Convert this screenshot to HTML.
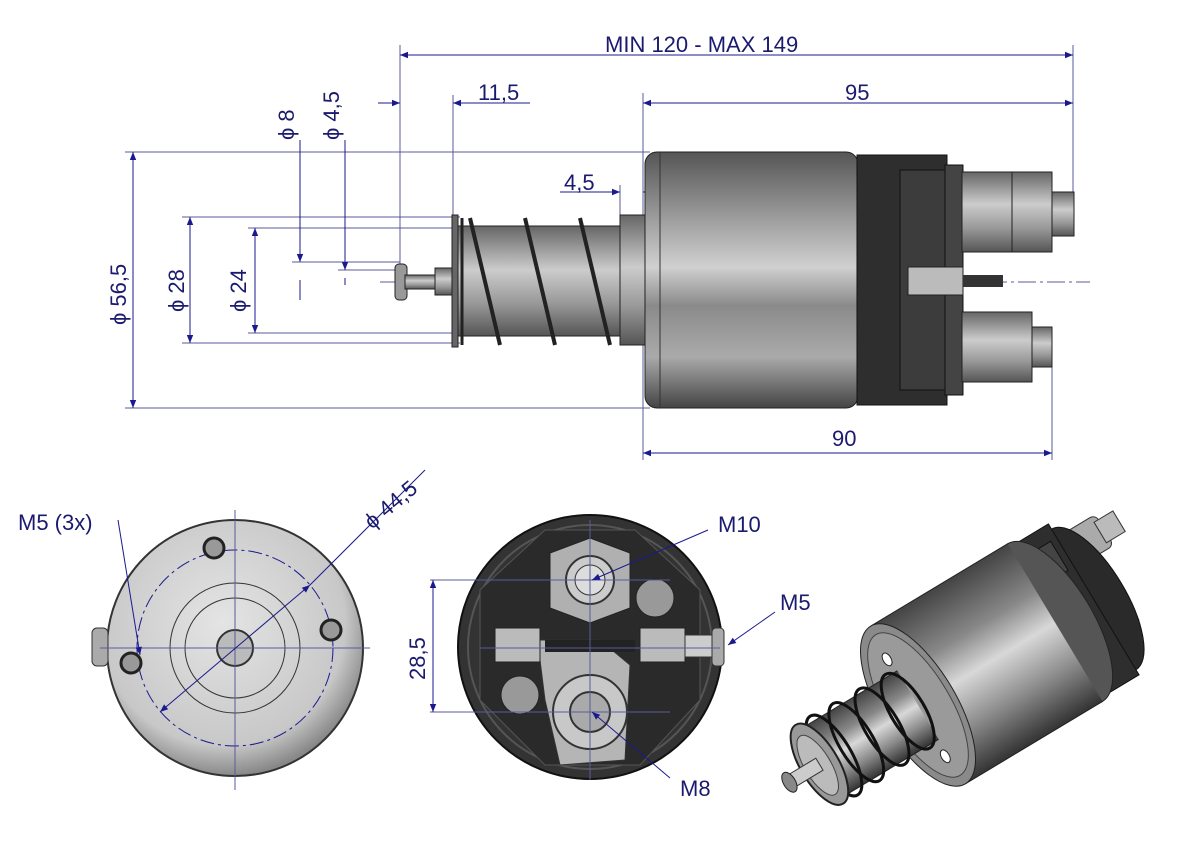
<!DOCTYPE html>
<html><head><meta charset="utf-8"><style>
html,body{margin:0;padding:0;background:#fff;}
svg{display:block;}
text{font-family:"Liberation Sans",sans-serif;fill:#1a1a6e;font-size:22px;}
</style></head><body>
<svg width="1191" height="842" viewBox="0 0 1191 842" xmlns="http://www.w3.org/2000/svg">
<defs>
<linearGradient id="cyl" x1="0" y1="0" x2="0" y2="1">
<stop offset="0" stop-color="#555"/><stop offset="0.25" stop-color="#9a9a9a"/><stop offset="0.45" stop-color="#d0d0d0"/><stop offset="0.6" stop-color="#8a8a8a"/><stop offset="0.8" stop-color="#aaa"/><stop offset="1" stop-color="#444"/>
</linearGradient>
<linearGradient id="sh" x1="0" y1="0" x2="0" y2="1">
<stop offset="0" stop-color="#666"/><stop offset="0.4" stop-color="#ccc"/><stop offset="0.7" stop-color="#999"/><stop offset="1" stop-color="#555"/>
</linearGradient>
<radialGradient id="disc" cx="0.45" cy="0.4" r="0.6">
<stop offset="0" stop-color="#e4e4e4"/><stop offset="0.8" stop-color="#c8c8c8"/><stop offset="1" stop-color="#888"/>
</radialGradient>
<linearGradient id="isoc" x1="0" y1="0" x2="0" y2="1">
<stop offset="0" stop-color="#444"/><stop offset="0.3" stop-color="#888"/><stop offset="0.5" stop-color="#d8d8d8"/><stop offset="0.75" stop-color="#8a8a8a"/><stop offset="1" stop-color="#333"/>
</linearGradient>
<marker id="a" viewBox="0 0 10 10" refX="10" refY="5" markerWidth="12" markerHeight="8" orient="auto-start-reverse" markerUnits="userSpaceOnUse"><path d="M0,1 L10,5 L0,9z" fill="#1a1a8e"/></marker>
</defs>
<g stroke="#5a5a9a" stroke-width="1" fill="none">
<line x1="400" y1="45" x2="400" y2="285"/>
<line x1="453" y1="95" x2="453" y2="340"/>
<line x1="643" y1="93" x2="643" y2="460"/>
<line x1="1073" y1="45" x2="1073" y2="225"/>
<line x1="1052" y1="330" x2="1052" y2="460"/>
<line x1="125" y1="152" x2="650" y2="152"/>
<line x1="125" y1="408" x2="650" y2="408"/>
<line x1="182" y1="217" x2="460" y2="217"/>
<line x1="182" y1="343" x2="460" y2="343"/>
<line x1="248" y1="228" x2="460" y2="228"/>
<line x1="248" y1="333" x2="460" y2="333"/>
<line x1="292" y1="262" x2="400" y2="262"/>
<line x1="338" y1="270" x2="400" y2="270"/>
<line x1="620" y1="185" x2="620" y2="217"/>
<line x1="380" y1="282" x2="1090" y2="282" stroke-dasharray="18,4,3,4"/>
</g>
<g stroke="#1a1a8e" stroke-width="1" fill="none">
<line x1="400" y1="55" x2="1073" y2="55" marker-start="url(#a)" marker-end="url(#a)"/>
<line x1="643" y1="103" x2="1073" y2="103" marker-start="url(#a)" marker-end="url(#a)"/>
<line x1="643" y1="453" x2="1052" y2="453" marker-start="url(#a)" marker-end="url(#a)"/>
<line x1="378" y1="103" x2="400" y2="103" marker-end="url(#a)"/>
<line x1="453" y1="103" x2="530" y2="103" marker-start="url(#a)"/>
<line x1="560" y1="192" x2="620" y2="192" marker-end="url(#a)"/>
<line x1="643" y1="192" x2="685" y2="192" marker-start="url(#a)"/>
<line x1="133" y1="152" x2="133" y2="408" marker-start="url(#a)" marker-end="url(#a)"/>
<line x1="190" y1="217" x2="190" y2="343" marker-start="url(#a)" marker-end="url(#a)"/>
<line x1="255" y1="228" x2="255" y2="333" marker-start="url(#a)" marker-end="url(#a)"/>
<line x1="300" y1="140" x2="300" y2="262" marker-end="url(#a)"/>
<line x1="300" y1="300" x2="300" y2="280"/>
<line x1="345" y1="140" x2="345" y2="270" marker-end="url(#a)"/>
<line x1="345" y1="285" x2="345" y2="278"/>
</g>
<text x="605" y="52">MIN 120  -  MAX  149</text>
<text x="845" y="100">95</text>
<text x="478" y="100">11,5</text>
<text x="564" y="190">4,5</text>
<text x="832" y="446">90</text>
<text transform="translate(126,325) rotate(-90)">ϕ 56,5</text>
<text transform="translate(184,312) rotate(-90)">ϕ 28</text>
<text transform="translate(246,312) rotate(-90)">ϕ 24</text>
<text transform="translate(294,140) rotate(-90)">ϕ 8</text>
<text transform="translate(339,140) rotate(-90)">ϕ 4,5</text>

<!-- side view -->
<rect x="395" y="264" width="12" height="36" rx="4" fill="#999" stroke="#222"/>
<rect x="405" y="275" width="30" height="14" fill="url(#sh)" stroke="#222"/>
<rect x="435" y="268" width="20" height="27" fill="url(#sh)" stroke="#222"/>
<rect x="455" y="226" width="175" height="110" fill="url(#sh)" stroke="#222"/>
<rect x="452" y="215" width="6" height="132" fill="#666" stroke="#222"/>
<rect x="620" y="215" width="28" height="130" fill="url(#sh)" stroke="#222"/>
<g stroke="#222" stroke-width="4" fill="none">
<line x1="470" y1="218" x2="500" y2="345"/><line x1="525" y1="218" x2="555" y2="345"/><line x1="580" y1="218" x2="610" y2="345"/>
<line x1="462" y1="218" x2="462" y2="345" stroke-width="3"/>
</g>
<rect x="645" y="152" width="213" height="256" rx="12" fill="url(#cyl)" stroke="#222"/>
<line x1="660" y1="152" x2="660" y2="408" stroke="#333"/>
<rect x="857" y="155" width="90" height="250" fill="#2e2e2e" stroke="#111"/>
<rect x="900" y="170" width="45" height="220" fill="#3c3c3c" stroke="#111"/>
<rect x="945" y="165" width="18" height="230" fill="#444" stroke="#111"/>
<rect x="962" y="172" width="50" height="80" fill="url(#sh)" stroke="#222"/>
<rect x="1012" y="172" width="40" height="80" fill="url(#sh)" stroke="#222"/>
<rect x="1052" y="192" width="22" height="44" fill="url(#sh)" stroke="#222"/>
<rect x="962" y="312" width="70" height="70" fill="url(#sh)" stroke="#222"/>
<rect x="1032" y="327" width="20" height="40" fill="url(#sh)" stroke="#222"/>
<rect x="908" y="267" width="55" height="28" fill="#bbb" stroke="#222"/>
<rect x="963" y="275" width="40" height="12" fill="#333"/>

<!-- left bottom disc -->
<circle cx="235" cy="648" r="128" fill="url(#disc)" stroke="#333" stroke-width="2"/>
<rect x="92" y="628" width="16" height="38" rx="5" fill="#aaa" stroke="#333"/>
<circle cx="235" cy="648" r="98" fill="none" stroke="#1a1a8e" stroke-dasharray="14,4,3,4"/>
<circle cx="235" cy="648" r="65" fill="none" stroke="#333"/>
<circle cx="235" cy="648" r="50" fill="none" stroke="#333"/>
<circle cx="235" cy="648" r="18" fill="#bbb" stroke="#333" stroke-width="2"/>
<circle cx="214" cy="548" r="10" fill="#999" stroke="#222" stroke-width="3"/>
<circle cx="331" cy="630" r="10" fill="#999" stroke="#222" stroke-width="3"/>
<circle cx="131" cy="663" r="10" fill="#999" stroke="#222" stroke-width="3"/>
<g stroke="#5a5a9a" fill="none"><line x1="235" y1="510" x2="235" y2="790"/><line x1="100" y1="648" x2="370" y2="648"/></g>
<g stroke="#1a1a8e" fill="none">
<line x1="160" y1="712" x2="310" y2="585" marker-start="url(#a)" marker-end="url(#a)"/>
<line x1="310" y1="585" x2="425" y2="470"/>
<line x1="118" y1="520" x2="140" y2="655" marker-end="url(#a)"/>
</g>
<text x="18" y="530">M5 (3x)</text>
<text transform="translate(372,530) rotate(-40)">ϕ 44,5</text>

<!-- middle disc -->
<circle cx="590" cy="647" r="132" fill="#333" stroke="#111" stroke-width="2"/>
<circle cx="590" cy="647" r="122" fill="none" stroke="#555" stroke-width="2"/>
<path d="M545,530 L635,530 L700,590 L700,700 L640,765 L545,765 L480,700 L480,590z" fill="#2a2a2a" stroke="#555"/>
<path d="M540,640 L600,640 L630,665 L625,760 L560,765 L545,700 L540,660z" fill="#b5b5b5" stroke="#333"/>
<polygon points="590,538 630,553 630,608 590,623 550,608 550,553" fill="#b0b0b0" stroke="#222"/>
<circle cx="590" cy="580" r="24" fill="#ccc" stroke="#333" stroke-width="2"/>
<circle cx="590" cy="580" r="15" fill="#ddd" stroke="#333"/>
<circle cx="590" cy="712" r="37" fill="#c8c8c8" stroke="#333" stroke-width="2"/>
<circle cx="590" cy="712" r="20" fill="#aaa" stroke="#333" stroke-width="2"/>
<circle cx="655" cy="598" r="19" fill="#999" stroke="#222"/>
<circle cx="520" cy="695" r="19" fill="#999" stroke="#222"/>
<rect x="495" y="628" width="45" height="34" fill="#bbb" stroke="#222"/>
<rect x="640" y="628" width="45" height="34" fill="#bbb" stroke="#222"/>
<rect x="545" y="640" width="90" height="12" fill="#222"/>
<rect x="685" y="635" width="30" height="22" fill="#ccc" stroke="#333"/>
<rect x="712" y="628" width="12" height="38" rx="4" fill="#aaa" stroke="#333"/>
<g stroke="#5a5a9a" fill="none"><line x1="590" y1="520" x2="590" y2="780"/><line x1="430" y1="580" x2="670" y2="580"/><line x1="430" y1="712" x2="670" y2="712"/><line x1="480" y1="648" x2="720" y2="648"/></g>
<g stroke="#1a1a8e" fill="none">
<line x1="433" y1="580" x2="433" y2="712" marker-start="url(#a)" marker-end="url(#a)"/>
<line x1="708" y1="530" x2="592" y2="580" marker-end="url(#a)"/>
<line x1="670" y1="778" x2="592" y2="712" marker-end="url(#a)"/>
<line x1="775" y1="612" x2="728" y2="645" marker-end="url(#a)"/>
</g>
<text transform="translate(425,680) rotate(-90)">28,5</text>
<text x="718" y="532">M10</text>
<text x="780" y="610">M5</text>
<text x="680" y="796">M8</text>

<!-- iso view -->
<g transform="translate(918,705) rotate(-31)">
<!-- terminals -->
<rect x="200" y="-72" width="50" height="36" rx="6" fill="#aaa" stroke="#333"/>
<rect x="245" y="-66" width="22" height="24" fill="#bbb" stroke="#333"/>
<rect x="205" y="15" width="28" height="26" fill="#999" stroke="#333"/>
<!-- black cap -->
<ellipse cx="205" cy="0" rx="32" ry="82" fill="#2a2a2a" stroke="#111"/>
<rect x="155" y="-88" width="50" height="176" fill="#2e2e2e" stroke="#111"/>
<rect x="180" y="-72" width="18" height="34" fill="#444" stroke="#111"/>
<!-- body -->
<ellipse cx="160" cy="0" rx="38" ry="92" fill="#555" stroke="#222"/>
<rect x="0" y="-92" width="160" height="184" fill="url(#isoc)"/>
<line x1="0" y1="-92" x2="160" y2="-92" stroke="#222"/>
<line x1="0" y1="92" x2="160" y2="92" stroke="#222"/>
<ellipse cx="0" cy="0" rx="38" ry="92" fill="#8a8a8a" stroke="#222"/>
<ellipse cx="0" cy="0" rx="32" ry="82" fill="#9a9a9a" stroke="#444"/>
<ellipse cx="-3" cy="-55" rx="4" ry="7" fill="#fff" stroke="#222"/>
<ellipse cx="-3" cy="58" rx="4" ry="7" fill="#fff" stroke="#222"/>
<!-- plunger -->
<rect x="-110" y="-40" width="110" height="80" fill="url(#isoc)"/>
<line x1="-110" y1="-40" x2="0" y2="-40" stroke="#222"/>
<line x1="-110" y1="40" x2="0" y2="40" stroke="#222"/>
<ellipse cx="-12" cy="0" rx="17" ry="43" fill="none" stroke="#111" stroke-width="3"/>
<ellipse cx="-42" cy="0" rx="17" ry="44" fill="none" stroke="#111" stroke-width="3"/>
<ellipse cx="-72" cy="0" rx="17" ry="45" fill="none" stroke="#111" stroke-width="3"/>
<ellipse cx="-98" cy="0" rx="17" ry="46" fill="none" stroke="#111" stroke-width="3"/>
<ellipse cx="-115" cy="0" rx="19" ry="46" fill="#999" stroke="#222" stroke-width="2"/>
<ellipse cx="-117" cy="0" rx="13" ry="34" fill="#bbb" stroke="#444"/>
<rect x="-150" y="-7" width="35" height="14" fill="#ccc" stroke="#333"/>
<ellipse cx="-150" cy="0" rx="6" ry="11" fill="#888" stroke="#222"/>
</g>
</svg>
</body></html>
